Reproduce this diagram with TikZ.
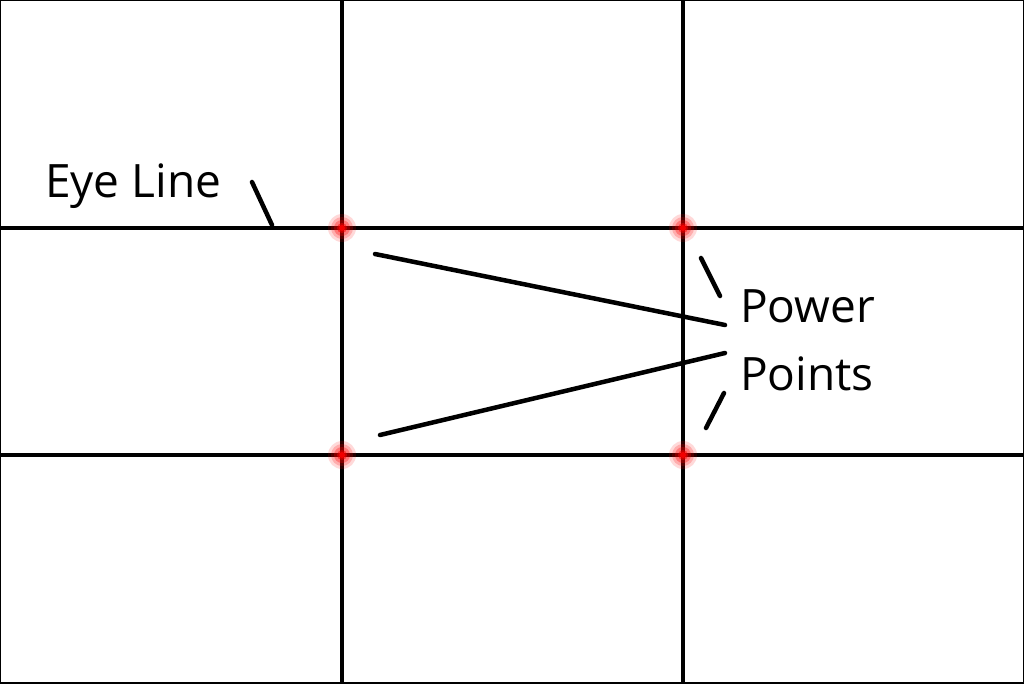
\documentclass[tikz,border=0pt]{standalone}
\usepackage{fontspec}
\setmainfont{Open Sans}
\begin{document}
\begin{tikzpicture}[x=1pt,y=-1pt,
  grid/.style={line width=4pt,black},
  lead/.style={line width=4.5pt,black,line cap=round},
  lbl/.style={font=\fontsize{46}{50}\selectfont,inner sep=0pt,anchor=base west}]
\useasboundingbox (0,0) rectangle (1024,683);
\fill[white] (0,0) rectangle (1024,683);
\draw[line width=2pt] (0,0) rectangle (1024,683);
\coordinate (v1t) at (342,0); \coordinate (v1b) at (342,683);
\coordinate (v2t) at (683,0); \coordinate (v2b) at (683,683);
\coordinate (h1l) at (0,228); \coordinate (h1r) at (1024,228);
\coordinate (h2l) at (0,455); \coordinate (h2r) at (1024,455);
\draw[grid] (v1t)--(v1b); \draw[grid] (v2t)--(v2b);
\draw[grid] (h1l)--(h1r); \draw[grid] (h2l)--(h2r);
\foreach \p in {(342,228),(683,228),(342,455),(683,455)}{
  \foreach \r/\o in {14/0.15,11/0.2,8/0.3,5/0.5,3/0.8}{
    \fill[red,opacity=\o] \p circle (\r);}
}
\node[lbl] (eye) at (45,197) {Eye Line};
\node[lbl] (pow) at (740,322) {Power};
\node[lbl] (pts) at (740,390) {Points};
\coordinate (e1) at (252,182); \coordinate (e2) at (272,225);
\draw[lead] (e1)--(e2);
\coordinate (a1) at (375,254); \coordinate (a2) at (725,325);
\coordinate (b1) at (380,435); \coordinate (b2) at (725,353);
\draw[lead] (a1)--(a2); \draw[lead] (b1)--(b2);
\coordinate (c1) at (701,258); \coordinate (c2) at (720,296);
\coordinate (d1) at (706,428); \coordinate (d2) at (724,393);
\draw[lead] (c1)--(c2); \draw[lead] (d1)--(d2);
\end{tikzpicture}
\end{document}
